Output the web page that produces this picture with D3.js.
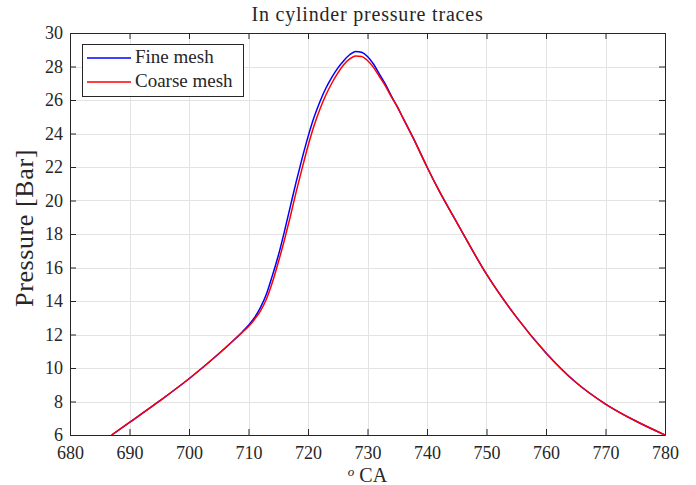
<!DOCTYPE html>
<html>
<head>
<meta charset="utf-8">
<script src="https://cdn.jsdelivr.net/npm/d3@7"></script>
<style>
  body { margin: 0; background: #fff; }
  svg text { font-family: "Liberation Serif", "DejaVu Serif", serif; fill: #262626; }
</style>
</head>
<body>
<svg id="chart" width="696" height="485"></svg>
<script>
// crank angle (deg) and pressure (bar)
const crankAngle = [687, 690, 695, 700, 705, 708, 709, 710, 711, 712, 713, 714, 715, 716, 717, 718, 719, 720,
  721, 722, 723, 724, 725, 726, 727, 728, 729, 730, 731, 732, 733, 734, 735, 736, 738, 740, 742, 745,
  750, 755, 760, 765, 770, 775, 780];

const coarsePressure = [6.0, 6.75, 8.02, 9.36, 10.85, 11.82, 12.15, 12.48, 12.9, 13.4, 14.1, 15.1, 16.3, 17.6, 19.0, 20.5, 21.9, 23.25,
  24.45, 25.45, 26.3, 27.0, 27.6, 28.1, 28.45, 28.63, 28.6, 28.36, 27.95, 27.4, 26.85, 26.2, 25.6, 24.9, 23.5, 22.0, 20.6, 18.7,
  15.6, 13.05, 10.9, 9.15, 7.85, 6.85, 6.0];

const finePressure = [6.0, 6.75, 8.02, 9.36, 10.85, 11.82, 12.17, 12.55, 13.0, 13.6, 14.4, 15.5, 16.7, 18.1, 19.6, 21.1, 22.5, 23.8,
  24.95, 25.9, 26.7, 27.35, 27.9, 28.35, 28.7, 28.9, 28.85, 28.6, 28.15, 27.55, 26.95, 26.25, 25.6, 24.9, 23.5, 22.0, 20.6, 18.7,
  15.6, 13.05, 10.9, 9.15, 7.85, 6.85, 6.0];

const xTicks = d3.range(680, 781, 10);
const yTicks = d3.range(6, 31, 2);

const seriesNames = ["Fine mesh", "Coarse mesh"];
const seriesColors = ["#0000ff", "#ff0000"];

const svg = d3.select("#chart");
const pl = 70, pr = 665, pt = 33, pb = 435;

const x = d3.scaleLinear().domain([680, 780]).range([pl, pr]);
const y = d3.scaleLinear().domain([6, 30]).range([pb, pt]);

// grid
const grid = svg.append("g").attr("stroke", "#e3e3e3").attr("stroke-width", 1);
grid.selectAll(".vg").data(xTicks).enter().append("line")
  .attr("x1", d => Math.round(x(d)) + 0.5).attr("x2", d => Math.round(x(d)) + 0.5)
  .attr("y1", pt).attr("y2", pb);
grid.selectAll(".hg").data(yTicks).enter().append("line")
  .attr("y1", d => Math.round(y(d)) + 0.5).attr("y2", d => Math.round(y(d)) + 0.5)
  .attr("x1", pl).attr("x2", pr);

// curves
svg.append("clipPath").attr("id", "plotClip")
  .append("rect").attr("x", pl).attr("y", pt).attr("width", pr - pl).attr("height", pb - pt);

const line = d3.line()
  .x(d => x(d[0]))
  .y(d => y(d[1]))
  .curve(d3.curveMonotoneX);

const series = [finePressure, coarsePressure];
series.forEach((vals, i) => {
  svg.append("path")
    .datum(crankAngle.map((a, k) => [a, vals[k]]))
    .attr("clip-path", "url(#plotClip)")
    .attr("fill", "none")
    .attr("stroke", seriesColors[i])
    .attr("stroke-width", 1.5)
    .attr("d", line);
});

// axes (ticks pointing inward, box on)
const tickLen = 6;
const axBottom = svg.append("g").attr("transform", `translate(0,${pb})`)
  .call(d3.axisBottom(x).tickValues(xTicks).tickSizeInner(-tickLen).tickSizeOuter(0).tickPadding(11));
const axTop = svg.append("g").attr("transform", `translate(0,${pt})`)
  .call(d3.axisTop(x).tickValues(xTicks).tickSizeInner(-tickLen).tickSizeOuter(0).tickFormat(""));
const axLeft = svg.append("g").attr("transform", `translate(${pl},0)`)
  .call(d3.axisLeft(y).tickValues(yTicks).tickSizeInner(-tickLen).tickSizeOuter(0).tickPadding(7));
const axRight = svg.append("g").attr("transform", `translate(${pr},0)`)
  .call(d3.axisRight(y).tickValues(yTicks).tickSizeInner(-tickLen).tickSizeOuter(0).tickFormat(""));

[axBottom, axTop, axLeft, axRight].forEach(ax => {
  ax.select(".domain").attr("stroke", "#262626");
  ax.selectAll(".tick line").attr("stroke", "#262626");
  ax.selectAll("text")
    .attr("fill", "#262626")
    .style("font-family", '"Liberation Serif", serif')
    .style("font-size", "18px");
});

// title and axis labels
svg.append("text")
  .attr("x", (pl + pr) / 2).attr("y", 21)
  .attr("text-anchor", "middle")
  .style("font-size", "20px")
  .style("letter-spacing", "0.8px")
  .attr("fill", "#000")
  .text("In cylinder pressure traces");

const xLab = svg.append("text")
  .attr("x", (pl + pr) / 2).attr("y", 482)
  .attr("text-anchor", "middle")
  .style("font-size", "20px")
  .attr("fill", "#000");
xLab.append("tspan").style("font-style", "italic").style("font-size", "13px").attr("dy", -6).text("o");
xLab.append("tspan").attr("dy", 6).text(" CA");

svg.append("text")
  .attr("transform", `translate(33,228) rotate(-90)`)
  .attr("text-anchor", "middle")
  .style("font-size", "26px")
  .style("letter-spacing", "0.6px")
  .attr("fill", "#000")
  .text("Pressure [Bar]");

// legend
const lg = svg.append("g").attr("transform", "translate(82,44)");
lg.append("rect")
  .attr("x", 0.5).attr("y", 0.5).attr("width", 161).attr("height", 52)
  .attr("fill", "#fff").attr("stroke", "#262626").attr("stroke-width", 1);
seriesNames.forEach((name, i) => {
  const row = lg.append("g").attr("transform", `translate(0,${14 + i * 24})`);
  row.append("line")
    .attr("x1", 5).attr("x2", 49).attr("y1", 0).attr("y2", 0)
    .attr("stroke", seriesColors[i]).attr("stroke-width", 1.5);
  row.append("text")
    .attr("x", 53).attr("y", 5)
    .style("font-size", "19px")
    .attr("fill", "#000")
    .text(name);
});
</script>
</body>
</html>
